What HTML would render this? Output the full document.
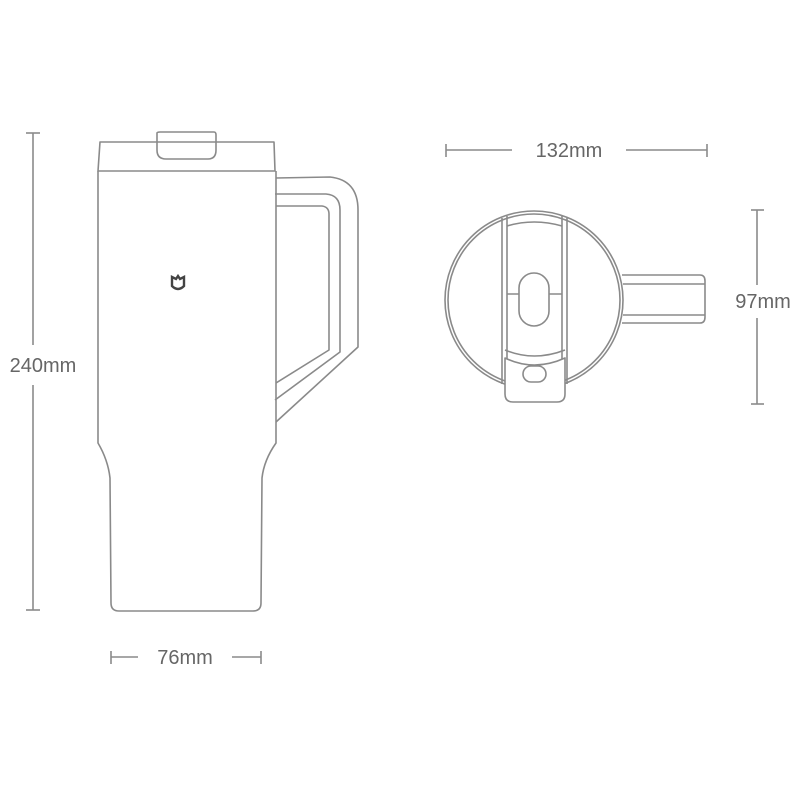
<!DOCTYPE html>
<html><head><style>body{margin:0;background:#fff}svg{display:block}</style></head><body>
<svg width="800" height="800" viewBox="0 0 800 800" xmlns="http://www.w3.org/2000/svg">
<g fill="none" stroke="#8a8a8a" stroke-width="1.6" stroke-linejoin="round">
<!-- dims -->
<line x1="33" y1="133" x2="33" y2="345"/><line x1="33" y1="385" x2="33" y2="610"/>
<line x1="26" y1="133" x2="40" y2="133"/><line x1="26" y1="610" x2="40" y2="610"/>
<line x1="111" y1="651" x2="111" y2="664"/><line x1="111" y1="657" x2="138" y2="657"/>
<line x1="261" y1="651" x2="261" y2="664"/><line x1="232" y1="657" x2="261" y2="657"/>
<line x1="446" y1="144" x2="446" y2="157"/><line x1="446" y1="150" x2="512" y2="150"/>
<line x1="707" y1="144" x2="707" y2="157"/><line x1="626" y1="150" x2="707" y2="150"/>
<line x1="757" y1="210" x2="757" y2="285"/><line x1="757" y1="318" x2="757" y2="404"/>
<line x1="751" y1="210" x2="764" y2="210"/><line x1="751" y1="404" x2="764" y2="404"/>
<!-- side view -->
<path d="M157 142 L157 133 Q157 132 160 132 L214 132 Q216 132 216 135 L216 150 Q216 159 208 159 L166 159 Q157 159 157 150 Z"/>
<path d="M100 142 L274 142 L275 171 L98 171 Z"/>
<path d="M98 171 L98 443 Q108 460 110 478 L111 603 Q111 611 119 611 L253 611 Q261 611 261 603 L262 478 Q264 460 276 443 L276 171"/>
<path d="M276 178 L330 177 Q358 180 358 210 L358 347 L276 422"/>
<path d="M275 194 L326 194 Q340 195 340 210 L340 352 L275 400"/>
<path d="M276 206 L322 206 Q329 207 329 214 L329 350 L276 383"/>
<!-- top view -->
<circle cx="534" cy="300" r="89"/>
<circle cx="534" cy="300" r="86"/>
<path d="M502 218 L502 384 M567 218 L567 384 M507 216 L507 384 M562 216 L562 384"/>
<path d="M507 226 Q534 218 562 226"/>
<path d="M507 294 L519 294 M549 294 L562 294"/>
<rect x="519" y="273" width="30" height="53" rx="15"/>
<path d="M505 350 Q534 362 565 350"/>
<path d="M505 358 Q534 372 565 358 L565 394 Q565 402 557 402 L513 402 Q505 402 505 394 Z" fill="#fff"/>
<rect x="523" y="366" width="23" height="16" rx="8"/>
<path d="M622 275 L700 275 Q705 275 705 281 L705 317 Q705 323 700 323 L622 323"/>
<path d="M623 284 L705 284 M623 315 L705 315"/>
</g>
<path d="M172 277 L176 279 L178 276 L180 279 L184 277 L184 286 Q178 292 172 286 Z" fill="none" stroke="#444" stroke-width="2.4"/>
<g font-family="Liberation Sans, sans-serif" font-size="20" fill="#666" text-anchor="middle">
<text x="43" y="372">240mm</text>
<text x="185" y="664">76mm</text>
<text x="569" y="157">132mm</text>
<text x="763" y="308">97mm</text>
</g>
</svg>
</body></html>
